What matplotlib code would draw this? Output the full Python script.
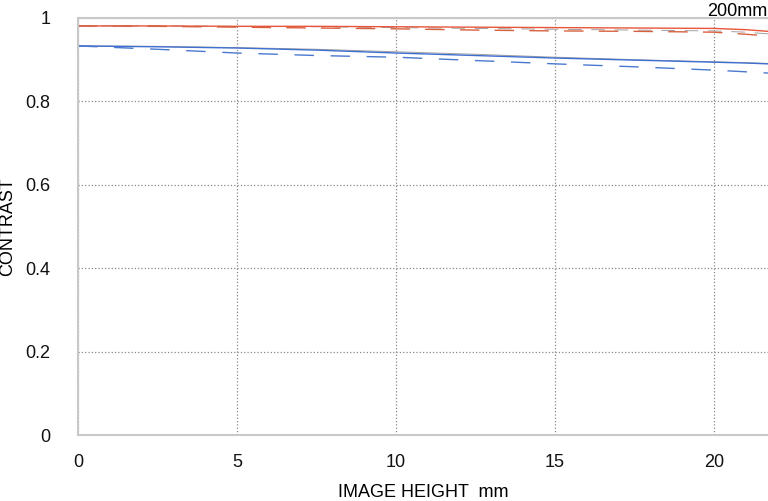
import matplotlib
matplotlib.use('Agg')
import matplotlib.pyplot as plt

plt.rcParams['font.family'] = ['Liberation Sans', 'DejaVu Sans']

# image height, mm
height = [0, 2.5, 5, 7.5, 10, 12.5, 15, 17.5, 20, 21.0, 21.7]

# 10 lp/mm
red_sag = [0.981, 0.981, 0.980, 0.980, 0.979, 0.978, 0.977, 0.976, 0.975, 0.972, 0.968]
red_mer = [0.981, 0.980, 0.978, 0.976, 0.974, 0.971, 0.969, 0.968, 0.966, 0.961, 0.957]
# 30 lp/mm
blue_sag = [0.933, 0.931, 0.928, 0.923, 0.916, 0.910, 0.904, 0.899, 0.894, 0.892, 0.890]
blue_mer = [0.933, 0.925, 0.916, 0.910, 0.906, 0.898, 0.890, 0.883, 0.875, 0.871, 0.868]
# gray reference lines
gray_a = [0.981, 0.981, 0.980, 0.979, 0.977, 0.975, 0.973, 0.971, 0.969, 0.966, 0.962]
gray_b = [0.933, 0.932, 0.929, 0.925, 0.919, 0.913, 0.906, 0.900, 0.895, 0.893, 0.891]

fig = plt.figure(figsize=(7.68, 5.01), dpi=100)
ax = fig.add_axes([78/768, 66/501, 690/768, 417/501])

ax.plot(height, gray_a, color='#a0a0a0', lw=0.7, ls=(0, (14, 10)))
ax.plot(height, gray_b, color='#a0a0a0', lw=0.7)
ax.plot(height, red_sag, color='#e8553a', lw=1.0)
ax.plot(height, red_mer, color='#d9603f', lw=1.0, ls=(0, (14, 11)))
ax.plot(height, blue_sag, color='#3f6fcf', lw=1.0)
ax.plot(height, blue_mer, color='#4a78d0', lw=1.0, ls=(0, (14, 12)))

ax.set_xlim(0, 21.7)
ax.set_ylim(0, 1)
ax.set_xticks([0, 5, 10, 15, 20])
ax.set_yticks([0, 0.2, 0.4, 0.6, 0.8, 1])
ax.set_yticklabels(['0', '0.2', '0.4', '0.6', '0.8', '1'])
ax.tick_params(length=0, labelsize=13, colors='#111111')
ax.tick_params(axis='y', pad=20)
ax.tick_params(axis='x', pad=14)
ax.grid(True, color='#888888', ls=':', lw=0.9)

for s in ['left', 'top', 'bottom']:
    ax.spines[s].set_color('#c8c8c8')
    ax.spines[s].set_linewidth(1.5)
ax.spines['right'].set_visible(False)

ax.set_xlabel('IMAGE HEIGHT  mm', fontsize=13)
ax.set_ylabel('CONTRAST', fontsize=13)
ax.xaxis.set_label_coords(0.5, -0.117)
ax.yaxis.set_label_coords(-0.089, 0.5)
fig.text(0.999, 0.995, '200mm', ha='right', va='top', fontsize=13)

fig.savefig('out.png', dpi=100)
